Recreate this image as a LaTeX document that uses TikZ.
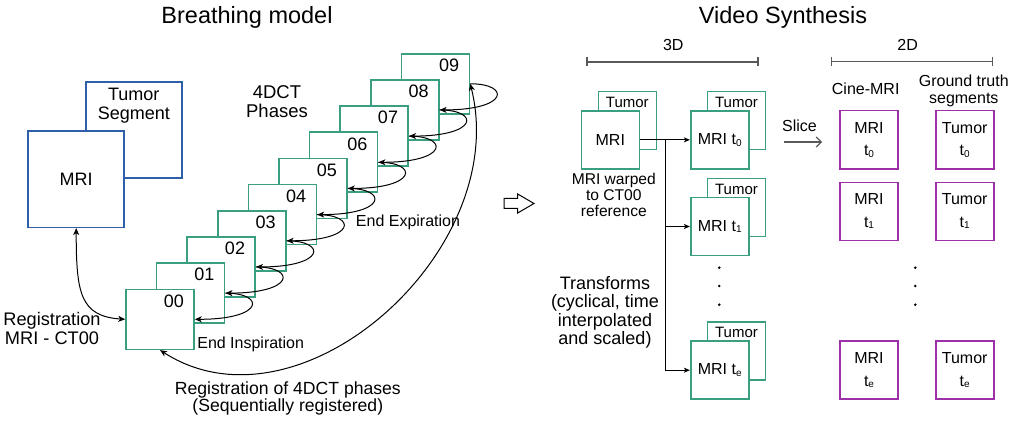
\documentclass[tikz,border=0pt]{standalone}
\usepackage{fontspec}
\setmainfont{Liberation Sans}
\usetikzlibrary{arrows.meta}
\definecolor{mriblue}{HTML}{2E5FA8}
\definecolor{ctgreen}{HTML}{3A9E80}
\definecolor{cinepurple}{HTML}{9B30A8}
\def\fsz#1#2{\fontsize{#1}{#2}\selectfont}
\def\tsub#1{t\raisebox{-1.5pt}{\fsz{10}{10}#1}}

\tikzset{
	txt/.style={inner sep=0pt, align=center},
	bluebox/.style={draw=mriblue, line width=1.6pt, fill=white, minimum width=96pt, minimum height=96pt, inner sep=0pt},
	ctbox/.style={draw=ctgreen, line width=1.6pt, fill=white, minimum width=68pt, minimum height=60pt, inner sep=0pt},
	volbox/.style={draw=ctgreen, line width=1.6pt, fill=white, minimum width=58pt, minimum height=58pt, inner sep=0pt, font=\fsz{16}{16}},
	slicebox/.style={draw=cinepurple, line width=1.6pt, fill=white, minimum width=58pt, minimum height=58pt, inner sep=0pt, align=center, font=\fsz{16}{16}},
	regarrow/.style={line width=1pt, -{Stealth[length=7pt, width=6pt, inset=2pt]}},
	bothways/.style={line width=1pt, {Stealth[length=7pt, width=6pt, inset=2pt]}-{Stealth[length=7pt, width=6pt, inset=2pt]}},
	flowarrow/.style={line width=1pt, -{Stealth[length=6pt, width=5pt, inset=1.5pt]}},
	bracket/.style={draw=black!65, line width=1.4pt, {Bar[width=9pt]}-{Bar[width=9pt]}}
}

\begin{document}
\begin{tikzpicture}[x=1pt, y=-1pt]
	%%%%% START %%%%%
	\useasboundingbox (0,0) rectangle (1020,425);
	
	\node[txt, font=\fsz{23.5}{24}, anchor=base] (breath) at (247,24) {Breathing model};
	\node[txt, font=\fsz{23.5}{24}, anchor=base] (video) at (783,24) {Video Synthesis};
	
	% MRI with tumor segment
	\node[bluebox] (seg) at (133.8,130.2) {};
	\node[txt, font=\fsz{18}{19}] (segtext) at (133.8,106) {Tumor\\Segment};
	\node[bluebox, font=\fsz{18}{18}] (mri) at (76.2,179.3) {MRI};
	
	\node[txt, font=\fsz{18.5}{19.3}] (phases) at (277,101.7) {4DCT\\Phases};
	
	% 4DCT phases
	\foreach \i in {9,8,...,0}{
		\node[ctbox] (ct\i) at ({160+30.6*\i},{319.3-26.17*\i}) {};
		\node[txt, font=\fsz{18}{18}] at ([xshift=-21pt, yshift=-12.4pt]ct\i.north east) {0\i};
	}
	
	\foreach \i in {0,...,8}{
		\pgfmathtruncatemacro\j{\i+1}
		\draw[regarrow] (ct\j.east) .. controls +(40,0) and +(70,0) .. (ct\i.east);
	}
	
	\draw[bothways] (mri.south) .. controls +(0,65) and +(-45,-3) .. (ct0.west);
	\draw[bothways] (ct0.south) .. controls +(140,90) and +(42,167) .. (ct9.east);
	
	\node[txt, font=\fsz{16}{16}, anchor=base] (endexp) at (408,226.7) {End Expiration};
	\node[txt, font=\fsz{16}{16}, anchor=base] (endins) at (250.7,348.3) {End Inspiration};
	\node[txt, font=\fsz{18.2}{19}] (regmri) at (52,328.8) {Registration\\MRI - CT00};
	\node[txt, font=\fsz{17.6}{17.5}] (regct) at (287.8,398.3) {Registration of 4DCT phases\\(Sequentially registered)};
	
	% open arrow between the halves
	\draw[line width=1pt, fill=white] (504,198.3) -- (517.7,198.3) -- (517.7,194) -- (534,203.5) -- (517.7,213) -- (517.7,208.3) -- (504,208.3) -- cycle;
	
	% 3D / 2D brackets
	\coordinate (b3l) at (586.3,62);
	\coordinate (b3r) at (758.7,62);
	\coordinate (b2l) at (830.7,61.3);
	\coordinate (b2r) at (993.3,61.3);
	\draw[bracket] (b3l) -- (b3r);
	\draw[bracket] (b2l) -- (b2r);
	\node[txt, font=\fsz{16}{16}, anchor=base] (threed) at (673.3,50.7) {3D};
	\node[txt, font=\fsz{16}{16}, anchor=base] (twod) at (907.7,50.7) {2D};
	
	% warped MRI
	\node[volbox] (tumw) at (627.3,120.7) {};
	\node[txt, font=\fsz{15}{15}] at ([yshift=-11.6pt]tumw.north) {Tumor};
	\node[volbox] (mriw) at (610.3,139.85) {MRI};
	\node[txt, font=\fsz{15.6}{16}] (warped) at (613.8,195) {MRI warped\\to CT00\\reference};
	
	% transformed volumes
	\foreach \n/\y/\s in {a/139.85/0, b/226.5/1, e/370.2/e}{
		\node[volbox] (tum\n) at (736.5,{\y-19.2}) {};
		\node[txt, font=\fsz{15}{15}] at ([yshift=-11.6pt]tum\n.north) {Tumor};
		\node[volbox] (mri\n) at (719.7,\y) {MRI \tsub{\s}};
	}
	
	\coordinate (split) at (665,139.85);
	\draw[flowarrow] (mriw.east) -- (mria.west);
	\draw[flowarrow] (split) |- (mrib.west);
	\draw[flowarrow] (split) |- (mrie.west);
	
	\node[txt, font=\fsz{18}{18.5}] (transf) at (605,312.2) {Transforms\\(cyclical, time\\interpolated\\and scaled)};
	
	\foreach \x in {719.3, 915.3}
		\foreach \y in {267.7, 286, 304.7}
			\fill (\x,\y) circle (1.4);
	
	% slicing
	\node[txt, font=\fsz{16}{16}, anchor=base] (slice) at (799.5,131.7) {Slice};
	\coordinate (sl1) at (784,142);
	\coordinate (sl2) at (822,142);
	\draw[draw=black!65, line width=1.2pt, -{Straight Barb[length=5pt, width=10pt]}] (sl1) -- (sl2);
	
	\node[txt, font=\fsz{16}{16}, anchor=base] (cine) at (865.7,95) {Cine-MRI};
	\node[txt, font=\fsz{16}{16.4}] (truth) at (963.8,91) {Ground truth\\segments};
	
	\foreach \n/\y/\s in {a/139.7/0, b/211.35/1, e/370.2/e}{
		\node[slicebox] (cine\n) at (869,\y) {MRI\\[6.5pt]\tsub{\s}};
		\node[slicebox] (seg\n) at (964.7,\y) {Tumor\\[6.5pt]\tsub{\s}};
	}
	
	%%%%% END %%%%%
\end{tikzpicture}
\end{document}
